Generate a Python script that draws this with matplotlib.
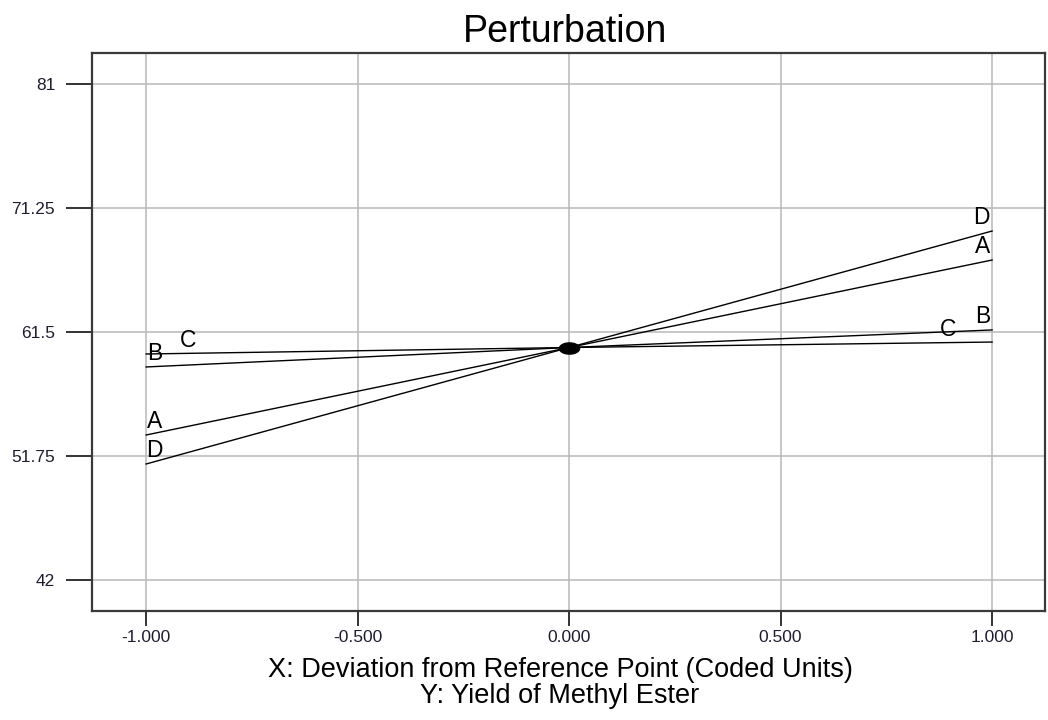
import numpy as np
import matplotlib
matplotlib.use('Agg')
import matplotlib.pyplot as plt
from matplotlib.path import Path

plt.rcParams['font.family'] = ['Liberation Sans', 'DejaVu Sans']

# ==========================================
# Data
# ==========================================
x_dev = [-1.0, 0.0, 1.0]
yield_A = [53.40, 60.28, 67.16]
yield_B = [58.75, 60.28, 61.66]
yield_C = [59.77, 60.28, 60.71]
yield_D = [51.12, 60.28, 69.44]
series_names = ['A', 'B', 'C', 'D']
ref_point = (0.0, 60.28)

x_ticks = [-1.0, -0.5, 0.0, 0.5, 1.0]
x_tick_labels = ['-1.000', '-0.500', '0.000', '0.500', '1.000']
y_ticks = [42, 51.75, 61.5, 71.25, 81]
y_tick_labels = ['42', '51.75', '61.5', '71.25', '81']

# label offsets in points (left end, right end)
label_offsets = {
    'A': ((6, 10), (-7, 10)),
    'B': ((6, 10), (-7, 10)),
    'C': ((30, 10), (-32, 9)),
    'D': ((6, 9.5), (-8, 10)),
}

# ==========================================
# Plot
# ==========================================
fig = plt.figure(figsize=(10.48, 7.2), dpi=100)
ax = fig.add_axes([0.0878, 0.1514, 0.9093, 0.775])

series = {'A': yield_A, 'B': yield_B, 'C': yield_C, 'D': yield_D}
for name in series_names:
    vals = series[name]
    ax.plot(x_dev, vals, color='black', lw=1.0, zorder=3)
    (lx, ly), (rx, ry) = label_offsets[name]
    ax.annotate(name, (x_dev[0], vals[0]), xytext=(lx, ly), textcoords='offset points',
                ha='center', va='center', fontsize=16.5, color='black', zorder=4)
    ax.annotate(name, (x_dev[-1], vals[-1]), xytext=(rx, ry), textcoords='offset points',
                ha='center', va='center', fontsize=16.5, color='black', zorder=4)

# flattened ellipse marker at the reference point
t = np.linspace(0, 2 * np.pi, 60)
ell = Path(np.column_stack([1.8 * np.cos(t), np.sin(t)]))
ax.plot([ref_point[0]], [ref_point[1]], marker=ell, ms=14.5, color='black', zorder=5)

ax.set_xlim(-1.128, 1.125)
ax.set_ylim(39.56, 83.44)
ax.set_xticks(x_ticks)
ax.set_xticklabels(x_tick_labels)
ax.set_yticks(y_ticks)
ax.set_yticklabels(y_tick_labels)

ax.grid(True, color='#b8b8b8', lw=1.1)
ax.set_axisbelow(True)
for sp in ax.spines.values():
    sp.set_color('#3a3a3a')
    sp.set_linewidth(1.6)

ax.tick_params(axis='y', direction='out', length=18.5, width=1.4, color='#333333',
               pad=8, labelsize=12.5, labelcolor='#1e1e30')
ax.tick_params(axis='x', direction='out', length=10.8, width=1.4, color='#333333',
               pad=3, labelsize=12.5, labelcolor='#1e1e30')

fig.text(0.539, 1 - 32 / 720, 'Perturbation', ha='center', va='center', fontsize=27)
fig.text(0.535, 1 - 670 / 720, 'X: Deviation from Reference Point (Coded Units)',
         ha='center', va='center', fontsize=19.5)
fig.text(0.534, 1 - 696 / 720, 'Y: Yield of Methyl Ester',
         ha='center', va='center', fontsize=19.5)

fig.savefig('out.png', dpi=100)
